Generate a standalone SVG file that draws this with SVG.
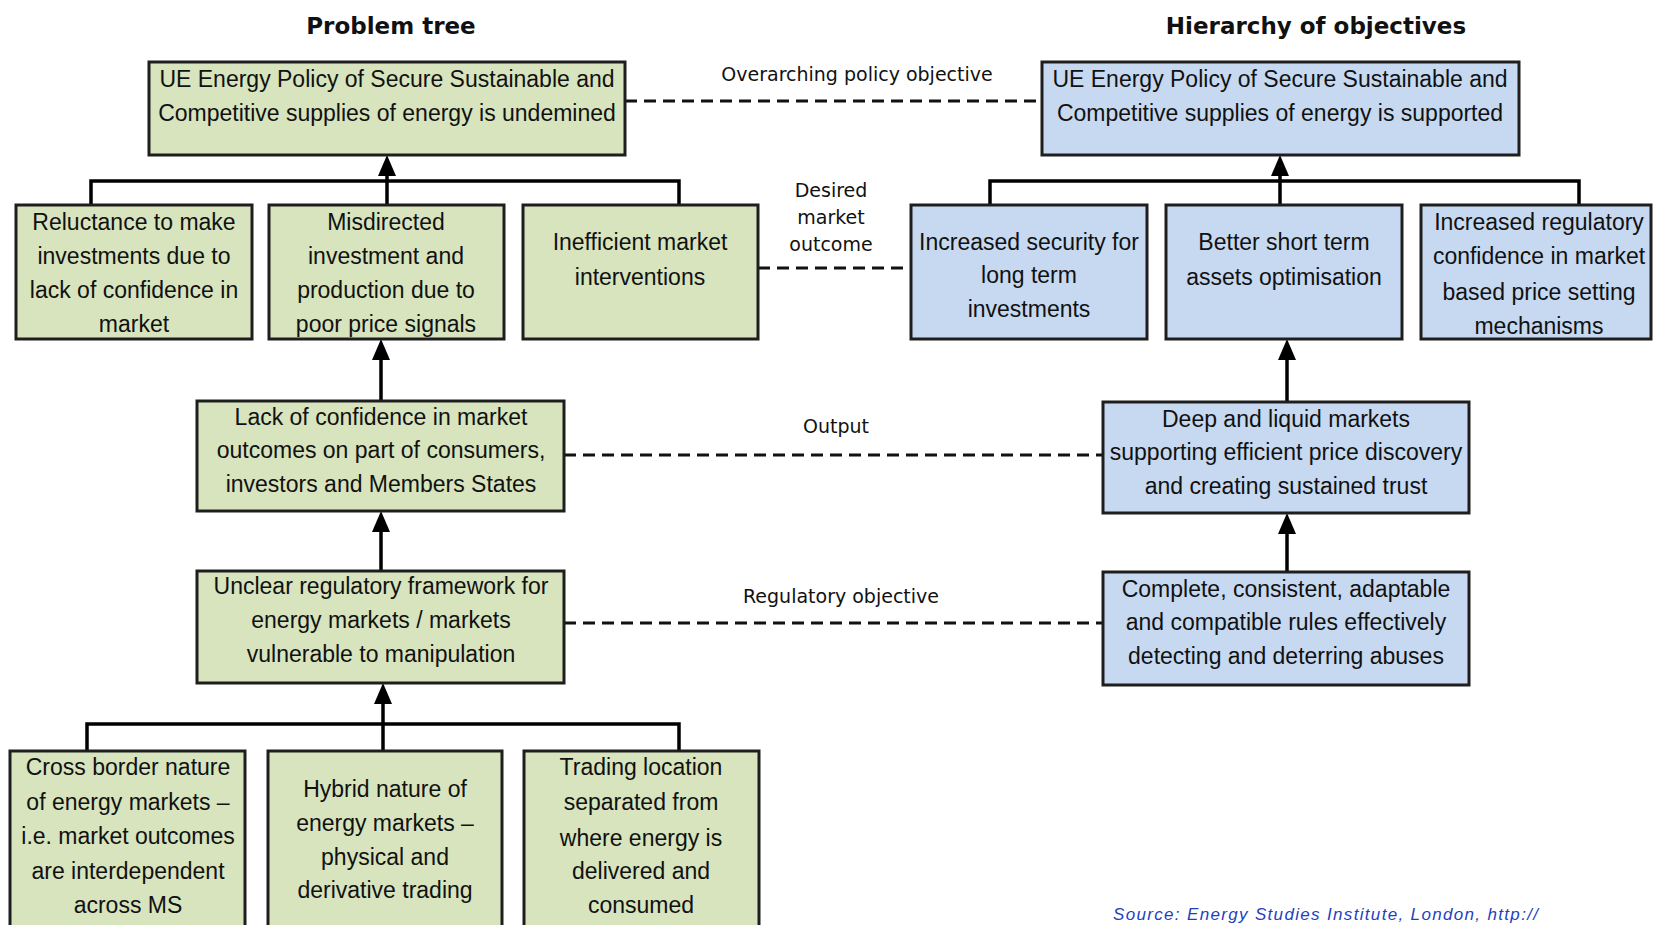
<svg xmlns="http://www.w3.org/2000/svg" width="1654" height="925" viewBox="0 0 1654 925">
<style>
.g{fill:#d7e4bd;stroke:#1e1e1e;stroke-width:3}
.b{fill:#c6d9f1;stroke:#1e1e1e;stroke-width:3}
.t{font-family:"Liberation Sans",Arial,sans-serif;font-size:23px;fill:#111;text-anchor:middle}
.lbl{font-family:"DejaVu Sans",Verdana,sans-serif;font-size:19px;fill:#111;text-anchor:middle}
.ttl{font-family:"DejaVu Sans",Verdana,sans-serif;font-size:23px;font-weight:bold;fill:#111;text-anchor:middle}
.ln{fill:none;stroke:#000;stroke-width:3.5}
.dash{fill:none;stroke:#111;stroke-width:3;stroke-dasharray:12 7}
.src{font-family:"Liberation Sans",Arial,sans-serif;font-size:17px;font-style:italic;fill:#1f3fbf}
</style>
<rect width="1654" height="925" fill="#fff"/>

<text class="ttl" x="391" y="34">Problem tree</text>
<text class="ttl" x="1316" y="34">Hierarchy of objectives</text>

<g id="connectors">
<path class="ln" d="M91,205 V181 H679 V205"/>
<line class="ln" x1="387" y1="205" x2="387" y2="175"/>
<polygon points="378,176 387,155 396,176" fill="#000"/>
<path class="ln" d="M990,205 V181 H1579 V205"/>
<line class="ln" x1="1280" y1="205" x2="1280" y2="175"/>
<polygon points="1271,176 1280,155 1289,176" fill="#000"/>
<line class="ln" x1="381" y1="401" x2="381" y2="358"/>
<polygon points="372,360 381,339 390,360" fill="#000"/>
<line class="ln" x1="1287" y1="402" x2="1287" y2="358"/>
<polygon points="1278,360 1287,339 1296,360" fill="#000"/>
<line class="ln" x1="381" y1="571" x2="381" y2="530"/>
<polygon points="372,532 381,511 390,532" fill="#000"/>
<line class="ln" x1="1287" y1="572" x2="1287" y2="532"/>
<polygon points="1278,534 1287,513 1296,534" fill="#000"/>
<path class="ln" d="M87,751 V724 H679 V751"/>
<line class="ln" x1="383" y1="751" x2="383" y2="702"/>
<polygon points="374,704 383,683 392,704" fill="#000"/>
<line class="dash" x1="625" y1="101" x2="1042" y2="101"/>
<line class="dash" x1="758" y1="268" x2="911" y2="268"/>
<line class="dash" x1="564" y1="455" x2="1103" y2="455"/>
<line class="dash" x1="564" y1="623" x2="1103" y2="623"/>
<text class="lbl" x="857" y="81">Overarching policy objective</text>
<text class="lbl" x="831" y="197">Desired</text>
<text class="lbl" x="831" y="224">market</text>
<text class="lbl" x="831" y="251">outcome</text>
<text class="lbl" x="836" y="433">Output</text>
<text class="lbl" x="841" y="603">Regulatory objective</text>
</g>

<g id="p-top">
<rect class="g" x="149" y="62" width="476" height="93"/>
<text class="t" x="387" y="87">UE Energy Policy of Secure Sustainable and</text>
<text class="t" x="387" y="121">Competitive supplies of energy is undemined</text>
</g>
<g id="o-top">
<rect class="b" x="1042" y="62" width="477" height="93"/>
<text class="t" x="1280" y="87">UE Energy Policy of Secure Sustainable and</text>
<text class="t" x="1280" y="121">Competitive supplies of energy is supported</text>
</g>

<g id="p-reluctance">
<rect class="g" x="16" y="205" width="236" height="134"/>
<text class="t" x="134" y="230">Reluctance to make</text>
<text class="t" x="134" y="264">investments due to</text>
<text class="t" x="134" y="298">lack of confidence in</text>
<text class="t" x="134" y="332">market</text>
</g>
<g id="p-misdirected">
<rect class="g" x="269" y="205" width="235" height="134"/>
<text class="t" x="386" y="230">Misdirected</text>
<text class="t" x="386" y="264">investment and</text>
<text class="t" x="386" y="298">production due to</text>
<text class="t" x="386" y="332">poor price signals</text>
</g>
<g id="p-inefficient">
<rect class="g" x="523" y="205" width="235" height="134"/>
<text class="t" x="640" y="250">Inefficient market</text>
<text class="t" x="640" y="285">interventions</text>
</g>

<g id="o-security">
<rect class="b" x="911" y="205" width="236" height="134"/>
<text class="t" x="1029" y="250">Increased security for</text>
<text class="t" x="1029" y="283">long term</text>
<text class="t" x="1029" y="317">investments</text>
</g>
<g id="o-short">
<rect class="b" x="1166" y="205" width="236" height="134"/>
<text class="t" x="1284" y="250">Better short term</text>
<text class="t" x="1284" y="285">assets optimisation</text>
</g>
<g id="o-regulatory">
<rect class="b" x="1421" y="205" width="230" height="134"/>
<text class="t" x="1539" y="230">Increased regulatory</text>
<text class="t" x="1539" y="264">confidence in market</text>
<text class="t" x="1539" y="300">based price setting</text>
<text class="t" x="1539" y="334">mechanisms</text>
</g>

<g id="p-lack">
<rect class="g" x="197" y="401" width="367" height="110"/>
<text class="t" x="381" y="425">Lack of confidence in market</text>
<text class="t" x="381" y="458">outcomes on part of consumers,</text>
<text class="t" x="381" y="492">investors and Members States</text>
</g>
<g id="o-deep">
<rect class="b" x="1103" y="402" width="366" height="111"/>
<text class="t" x="1286" y="427">Deep and liquid markets</text>
<text class="t" x="1286" y="460">supporting efficient price discovery</text>
<text class="t" x="1286" y="494">and creating sustained trust</text>
</g>

<g id="p-unclear">
<rect class="g" x="197" y="571" width="367" height="112"/>
<text class="t" x="381" y="594">Unclear regulatory framework for</text>
<text class="t" x="381" y="628">energy markets / markets</text>
<text class="t" x="381" y="662">vulnerable to manipulation</text>
</g>
<g id="o-complete">
<rect class="b" x="1103" y="572" width="366" height="113"/>
<text class="t" x="1286" y="597">Complete, consistent, adaptable</text>
<text class="t" x="1286" y="630">and compatible rules effectively</text>
<text class="t" x="1286" y="664">detecting and deterring abuses</text>
</g>

<g id="p-cross">
<rect class="g" x="10" y="751" width="235" height="190"/>
<text class="t" x="128" y="775">Cross border nature</text>
<text class="t" x="128" y="810">of energy markets –</text>
<text class="t" x="128" y="844">i.e. market outcomes</text>
<text class="t" x="128" y="879">are interdependent</text>
<text class="t" x="128" y="913">across MS</text>
</g>
<g id="p-hybrid">
<rect class="g" x="268" y="751" width="234" height="190"/>
<text class="t" x="385" y="797">Hybrid nature of</text>
<text class="t" x="385" y="831">energy markets –</text>
<text class="t" x="385" y="865">physical and</text>
<text class="t" x="385" y="898">derivative trading</text>
</g>
<g id="p-trading">
<rect class="g" x="524" y="751" width="235" height="190"/>
<text class="t" x="641" y="775">Trading location</text>
<text class="t" x="641" y="810">separated from</text>
<text class="t" x="641" y="846">where energy is</text>
<text class="t" x="641" y="879">delivered and</text>
<text class="t" x="641" y="913">consumed</text>
</g>

<text class="src" x="1113" y="920" textLength="425" lengthAdjust="spacing">Source: Energy Studies Institute, London, http://</text>
</svg>
